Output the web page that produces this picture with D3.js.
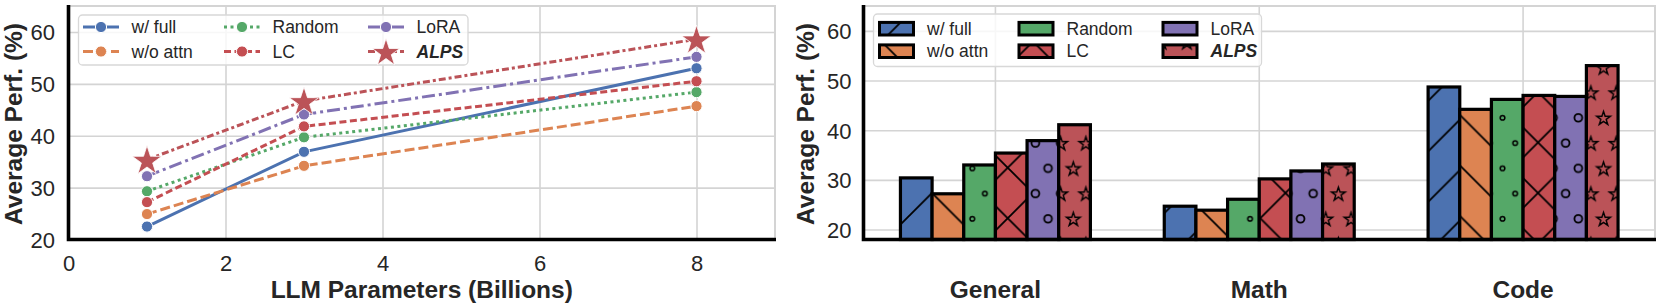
<!doctype html>
<html>
<head>
<meta charset="utf-8">
<script src="https://cdn.jsdelivr.net/npm/d3@7/dist/d3.min.js"></script>
<style>
  body { margin: 0; background: #fff; }
  svg text { font-family: "Liberation Sans", Arial, sans-serif; fill: #262626; }
</style>
</head>
<body>
<svg id="fig" width="1660" height="306"></svg>
<script>
// ---- data ----
const methods = ['w/ full', 'w/o attn', 'Random', 'LC', 'LoRA', 'ALPS'];
const colors = ['#4C72B0', '#DD8452', '#55A868', '#C44E52', '#8172B3', '#BB5358'];

const paramsB = [1, 3, 8];
const lineFull = [22.5, 36.9, 53.0];
const lineNoAttn = [24.9, 34.2, 45.7];
const lineRandom = [29.3, 39.7, 48.4];
const lineLC = [27.2, 41.8, 50.5];
const lineLoRA = [32.2, 44.1, 55.2];
const lineALPS = [35.4, 46.7, 58.6];

const tasks = ['General', 'Math', 'Code'];
const barFull = [30.4, 24.7, 48.7];
const barNoAttn = [27.2, 23.9, 44.2];
const barRandom = [33.0, 26.1, 46.2];
const barLC = [35.4, 30.2, 47.0];
const barLoRA = [37.9, 31.8, 46.8];
const barALPS = [41.1, 33.2, 53.0];

const xTicksL = [0, 2, 4, 6, 8];
const yTicks = [20, 30, 40, 50, 60];

const lineSeries = [lineFull, lineNoAttn, lineRandom, lineLC, lineLoRA, lineALPS];
const barSeries = [barFull, barNoAttn, barRandom, barLC, barLoRA, barALPS];

const dashes = [null, '10,4', '3,3.5', '7,3.5', '13,4,3,4', '7,3,3,3'];
const hatches = [['diagR'], ['diagL'], ['dots'], ['diagR', 'diagL'], ['rings'], ['stars']];

const svg = d3.select('#fig');
const gridColor = '#d4d4d4';

// ---- hatch patterns (aligned to the page, like matplotlib) ----
const defs = svg.append('defs');
const T = 50.5;
function linePattern(id, oy, paths) {
  const p = defs.append('pattern').attr('id', id)
    .attr('patternUnits', 'userSpaceOnUse')
    .attr('x', 0).attr('y', oy).attr('width', T).attr('height', T);
  p.append('path').attr('d', paths)
    .attr('stroke', '#000').attr('stroke-width', 1.8).attr('fill', 'none');
}
linePattern('diagR', 14, `M-5,${T + 5}L${T + 5},-5 M-5,5L5,-5 M${T - 5},${T + 5}L${T + 5},${T - 5}`);
linePattern('diagL', 18.5, `M-5,-5L${T + 5},${T + 5} M${T - 5},-5L${T + 5},5 M-5,${T - 5}L5,${T + 5}`);

function starPath(cx, cy, R) {
  const r = R * 0.382;
  let d = '';
  for (let k = 0; k < 10; k++) {
    const a = -Math.PI / 2 + k * Math.PI / 5;
    const rr = k % 2 ? r : R;
    d += (k ? 'L' : 'M') + (cx + rr * Math.cos(a)).toFixed(2) + ',' + (cy + rr * Math.sin(a)).toFixed(2);
  }
  return d + 'Z';
}

const W2 = 25.25, H2 = 50.5;
const spots = [[6.3, 12.6], [6.3 + W2, 12.6], [18.9, 37.85], [18.9 - W2, 37.85]];
function shapePattern(id, draw) {
  const p = defs.append('pattern').attr('id', id)
    .attr('patternUnits', 'userSpaceOnUse')
    .attr('x', 6.5).attr('y', 4.2).attr('width', W2).attr('height', H2);
  spots.forEach(s => draw(p, s));
}
shapePattern('dots', (p, s) => p.append('circle').attr('cx', s[0]).attr('cy', s[1]).attr('r', 2.3)
  .attr('fill', 'none').attr('stroke', '#000').attr('stroke-width', 1.5));
shapePattern('rings', (p, s) => p.append('circle').attr('cx', s[0]).attr('cy', s[1]).attr('r', 3.9)
  .attr('fill', 'none').attr('stroke', '#000').attr('stroke-width', 1.8));
shapePattern('stars', (p, s) => p.append('path').attr('d', starPath(s[0], s[1] + 0.8, 7.2))
  .attr('fill', 'none').attr('stroke', '#000').attr('stroke-width', 1.4).attr('stroke-linejoin', 'miter'));

// ================= left: line chart =================
const xL = d3.scaleLinear().domain([0, 9]).range([68.5, 775]);
const yL = d3.scaleLinear().domain([20, 65]).range([239.5, 6]);
const left = svg.append('g');

function styleAxis(g, size) {
  g.select('.domain').remove();
  g.selectAll('.tick line').attr('stroke', gridColor).attr('stroke-width', 1.6);
  g.selectAll('.tick text').attr('font-size', size).attr('fill', '#262626')
    .style('font-family', '"Liberation Sans", Arial, sans-serif');
}

left.append('g').attr('transform', `translate(0,${yL.range()[0]})`)
  .call(d3.axisBottom(xL).tickValues(xTicksL).tickSize(-(yL.range()[0] - yL.range()[1])).tickPadding(16))
  .call(g => styleAxis(g, 22));
left.append('g').attr('transform', `translate(${xL.range()[0]},0)`)
  .call(d3.axisLeft(yL).tickValues(yTicks).tickSize(-(xL.range()[1] - xL.range()[0])).tickPadding(13.5))
  .call(g => styleAxis(g, 22))
  .call(g => g.selectAll('.tick text').attr('dy', '0.36em'));

// light top/right frame
left.append('path')
  .attr('d', `M${xL.range()[0]},${yL.range()[1]}H${xL.range()[1]}V${yL.range()[0]}`)
  .attr('fill', 'none').attr('stroke', gridColor).attr('stroke-width', 2);

const line = d3.line().x((d, i) => xL(paramsB[i])).y(d => yL(d));
lineSeries.forEach((s, k) => {
  left.append('path').datum(s).attr('d', line)
    .attr('fill', 'none').attr('stroke', colors[k]).attr('stroke-width', 3)
    .attr('stroke-dasharray', dashes[k]);
});
lineSeries.forEach((s, k) => {
  s.forEach((v, i) => {
    if (k === 5) {
      left.append('path').attr('d', starPath(xL(paramsB[i]), yL(v) + 1.5, 15.5))
        .attr('fill', colors[k]).attr('stroke', '#fff').attr('stroke-width', 0.8);
    } else {
      left.append('circle').attr('cx', xL(paramsB[i])).attr('cy', yL(v)).attr('r', 5.6)
        .attr('fill', colors[k]).attr('stroke', '#fff').attr('stroke-width', 1);
    }
  });
});

// black left/bottom spines
left.append('path')
  .attr('d', `M${xL.range()[0]},${yL.range()[1] - 1}V${yL.range()[0]}H${xL.range()[1] + 1}`)
  .attr('fill', 'none').attr('stroke', '#000').attr('stroke-width', 3.6);

left.append('text').attr('transform', `translate(22,124) rotate(-90)`)
  .attr('text-anchor', 'middle').attr('font-size', 24.5).attr('font-weight', 'bold')
  .text('Average Perf. (%)');
left.append('text').attr('x', (xL.range()[0] + xL.range()[1]) / 2).attr('y', 298)
  .attr('text-anchor', 'middle').attr('font-size', 24.5).attr('font-weight', 'bold')
  .text('LLM Parameters (Billions)');

// legend (left)
const legL = left.append('g');
legL.append('rect').attr('x', 78.5).attr('y', 15).attr('width', 389.5).attr('height', 50).attr('rx', 4)
  .attr('fill', '#fff').attr('fill-opacity', 0.8).attr('stroke', '#d8d8d8').attr('stroke-width', 1.3);
const colXL = [83, 224, 368], rowY = [27, 51.5];
methods.forEach((m, k) => {
  const x0 = colXL[Math.floor(k / 2)], y0 = rowY[k % 2];
  legL.append('line').attr('x1', x0).attr('x2', x0 + 36).attr('y1', y0).attr('y2', y0)
    .attr('stroke', colors[k]).attr('stroke-width', 3).attr('stroke-dasharray', dashes[k]);
  if (k === 5) {
    legL.append('path').attr('d', starPath(x0 + 18, y0 + 1.5, 14.5))
      .attr('fill', colors[k]).attr('stroke', '#fff').attr('stroke-width', 0.8);
  } else {
    legL.append('circle').attr('cx', x0 + 18).attr('cy', y0).attr('r', 5.6)
      .attr('fill', colors[k]).attr('stroke', '#fff').attr('stroke-width', 1);
  }
  legL.append('text').attr('x', x0 + 48.5).attr('y', y0 + 6).attr('font-size', 17.5)
    .attr('font-weight', k === 5 ? 'bold' : null).attr('font-style', k === 5 ? 'italic' : null)
    .text(m);
});

// ================= right: bar chart =================
const xR = d3.scaleBand().domain(tasks).range([863.5, 1655]).padding(0);
const bw = xR.bandwidth();
const xIn = d3.scaleBand().domain(methods).range([0.14 * bw, 0.86 * bw]).padding(0);
const yR = d3.scaleLinear().domain([18, 65]).range([239.5, 6]);
const right = svg.append('g');

right.append('g').attr('transform', `translate(0,${yR.range()[0]})`)
  .call(d3.axisBottom(xR).tickSize(-(yR.range()[0] - yR.range()[1])).tickPadding(41))
  .call(g => styleAxis(g, 24.5))
  .call(g => g.selectAll('.tick text').attr('font-weight', 'bold'));
right.append('g').attr('transform', `translate(${xR.range()[0]},0)`)
  .call(d3.axisLeft(yR).tickValues(yTicks).tickSize(-(xR.range()[1] - xR.range()[0])).tickPadding(12))
  .call(g => styleAxis(g, 22))
  .call(g => g.selectAll('.tick text').attr('dy', '0.36em'));

right.append('path')
  .attr('d', `M${xR.range()[0]},${yR.range()[1]}H${xR.range()[1]}V${yR.range()[0]}`)
  .attr('fill', 'none').attr('stroke', gridColor).attr('stroke-width', 2);

function hatchedRect(g, x, y, w, h, k, sw) {
  g.append('rect').attr('x', x).attr('y', y).attr('width', w).attr('height', h).attr('fill', colors[k]);
  hatches[k].forEach(id => g.append('rect').attr('x', x).attr('y', y).attr('width', w).attr('height', h)
    .attr('fill', `url(#${id})`));
  g.append('rect').attr('x', x).attr('y', y).attr('width', w).attr('height', h)
    .attr('fill', 'none').attr('stroke', '#000').attr('stroke-width', sw);
}

tasks.forEach((t, i) => {
  barSeries.forEach((s, k) => {
    const x = xR(t) + xIn(methods[k]);
    const y = yR(s[i]);
    hatchedRect(right, x, y, xIn.bandwidth(), yR.range()[0] - y, k, 3.2);
  });
});

right.append('path')
  .attr('d', `M${xR.range()[0]},${yR.range()[1] - 1}V${yR.range()[0]}H${xR.range()[1] + 1}`)
  .attr('fill', 'none').attr('stroke', '#000').attr('stroke-width', 3.6);

right.append('text').attr('transform', `translate(814,124) rotate(-90)`)
  .attr('text-anchor', 'middle').attr('font-size', 24.5).attr('font-weight', 'bold')
  .text('Average Perf. (%)');

// legend (right)
const legR = right.append('g');
legR.append('rect').attr('x', 873.5).attr('y', 14).attr('width', 388).attr('height', 52.5).attr('rx', 4)
  .attr('fill', '#fff').attr('fill-opacity', 0.8).attr('stroke', '#d8d8d8').attr('stroke-width', 1.3);
const colXR = [879.5, 1019, 1163], rowYR = [28.7, 51.2];
methods.forEach((m, k) => {
  const x0 = colXR[Math.floor(k / 2)], y0 = rowYR[k % 2];
  hatchedRect(legR, x0, y0 - 6.3, 34, 12.6, k, 3);
  legR.append('text').attr('x', x0 + 47.5).attr('y', y0 + 6).attr('font-size', 17.5)
    .attr('font-weight', k === 5 ? 'bold' : null).attr('font-style', k === 5 ? 'italic' : null)
    .text(m);
});
</script>
</body>
</html>
